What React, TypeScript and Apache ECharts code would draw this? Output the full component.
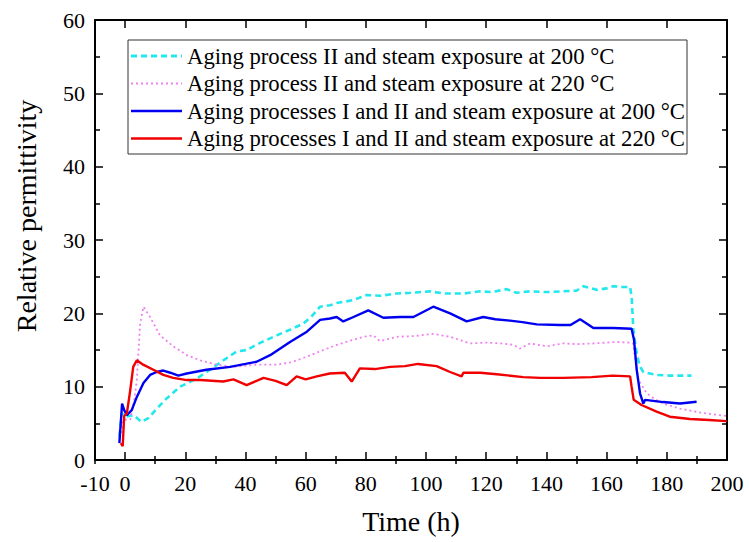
import React, { useEffect, useRef } from "react";
import * as echarts from "echarts";

const seriesNames = [
  "Aging process II and steam exposure at 200 °C",
  "Aging process II and steam exposure at 220 °C",
  "Aging processes I and II and steam exposure at 200 °C",
  "Aging processes I and II and steam exposure at 220 °C",
];

const xTitle = "Time (h)";
const yTitle = "Relative permittivity";
const xLabelValues = [-10, 0, 20, 40, 60, 80, 100, 120, 140, 160, 180, 200];
const xMajorTicks = [0, 20, 40, 60, 80, 100, 120, 140, 160, 180, 200];
const xMinorTicks = [-10, 10, 30, 50, 70, 90, 110, 130, 150, 170, 190];

const cyanData: [number, number][] = [
  [-1.9, 3.2], [-1.1, 6.4], [0, 5.9], [2.8, 6.1], [5.5, 5.2], [7.7, 5.7], [10.5, 7.0],
  [13.8, 8.4], [18.3, 10.0], [23.8, 11.1], [27.1, 12.0], [32.7, 13.6], [37.1, 14.8],
  [40.4, 15.0], [45, 16.0], [50.4, 17.0], [55, 17.8], [59.2, 18.6], [62, 19.6], [64.8, 20.9],
  [68.1, 21.1], [70.3, 21.4], [75.8, 21.8], [80.3, 22.5], [85, 22.4], [90.3, 22.7],
  [95, 22.8], [101.3, 23.0], [106, 22.7], [112.4, 22.7], [118, 23.0], [122, 22.9],
  [126.8, 23.3], [130, 22.8], [134.6, 23.0], [140, 22.9], [145.6, 23.0], [150, 23.1],
  [152.3, 23.7], [156.7, 23.2], [160, 23.4], [162.2, 23.7], [165, 23.6], [167.8, 23.6],
  [168.3, 22.3], [168.9, 17.7], [170, 14.5], [171, 12.8], [172.2, 12.0], [176.6, 11.6],
  [181, 11.5], [188.2, 11.5],
];

const pinkData: [number, number][] = [
  [-1.8, 3.0], [-0.5, 5.5], [1.7, 5.5], [3.0, 8.0], [3.9, 10.9], [5.0, 18.6], [6.1, 20.9],
  [8.3, 19.5], [11.6, 17.0], [16, 15.5], [20.5, 14.3], [24.9, 13.6], [30.5, 13.0],
  [36, 12.7], [43.7, 13.0], [50.4, 13.0], [55, 13.3], [59.2, 13.9], [65.9, 15.0],
  [70.3, 15.7], [75.9, 16.4], [79.2, 16.8], [82.5, 17.0], [84.7, 16.2], [90.3, 16.8],
  [96, 16.9], [102.4, 17.2], [108, 16.8], [114.6, 15.9], [120, 16.0], [125, 15.9],
  [129, 15.7], [131.2, 15.2], [134.6, 15.9], [140.1, 15.5], [145.6, 15.9], [150, 15.8],
  [156, 15.9], [163.3, 16.1], [167.8, 16.0], [168.8, 15.9], [169.4, 14.1], [170.6, 10.9],
  [173.3, 9.1], [176, 8.3], [178.8, 7.7], [184.4, 7.0], [192.1, 6.4], [199.9, 6.0],
];

const blueData: [number, number][] = [
  [-1.9, 2.3], [-1.0, 7.7], [-0.3, 6.8], [0.6, 6.1], [2.2, 6.8], [3.9, 8.6], [6.1, 10.5],
  [8.3, 11.6], [10.5, 12.0], [12.7, 12.2], [15, 11.9], [17.7, 11.5], [20.5, 11.8],
  [27, 12.3], [34.9, 12.7], [40, 13.1], [43.7, 13.4], [48.2, 14.3], [54.8, 16.1],
  [60.4, 17.5], [64.8, 19.1], [68.1, 19.3], [70.3, 19.5], [72.5, 18.9], [75.9, 19.5],
  [80.8, 20.4], [85.8, 19.4], [91.4, 19.5], [95.8, 19.5], [102.4, 20.9], [108, 20.0],
  [113.5, 18.9], [119, 19.5], [123, 19.2], [127.9, 19.0], [132, 18.8], [136.8, 18.5],
  [144.5, 18.4], [148, 18.4], [151.2, 19.2], [155.6, 18.0], [162.2, 18.0], [168.3, 17.9],
  [169.1, 16.4], [170, 12.3], [171.1, 9.1], [172.2, 7.7], [172.8, 8.2], [178.8, 7.9],
  [184.4, 7.7], [189.9, 7.95],
];

const redData: [number, number][] = [
  [-1.4, 2.3], [-0.8, 1.9], [-0.3, 6.0], [0.6, 6.4], [1.7, 9.5], [2.7, 12.7], [3.9, 13.6],
  [6, 13.0], [9.4, 12.3], [12.7, 11.6], [16, 11.2], [20.5, 10.9], [25, 10.9], [32.6, 10.7],
  [36, 11.0], [40.4, 10.2], [46, 11.2], [50, 10.8], [53.7, 10.2], [57, 11.4], [60, 11.0],
  [63.7, 11.4], [68, 11.8], [73, 11.9], [75.3, 10.7], [78, 12.5], [83, 12.4], [88, 12.7],
  [93, 12.8], [97.3, 13.1], [103.5, 12.8], [108, 12.0], [111.8, 11.4], [112.4, 11.9],
  [118, 11.9], [123.5, 11.7], [132.3, 11.3], [138, 11.2], [145.6, 11.2], [155, 11.3],
  [162, 11.5], [167.8, 11.4], [168.3, 10.0], [169, 8.2], [171.6, 7.5], [176.6, 6.6],
  [181, 5.9], [187.7, 5.6], [194, 5.45], [199.9, 5.3],
];

const FONT = "Liberation Serif";
const colors = ["#22E8EE", "#F080F0", "#0000F0", "#F00000"];
const widths = [2.6, 1.8, 2.4, 2.4];
const dashes: any[] = [[6, 4], [2, 3], "solid", "solid"];
const datasets = [cyanData, pinkData, blueData, redData];

export default function App() {
  const ref = useRef<HTMLDivElement>(null);
  useEffect(() => {
    if (!ref.current) return;
    const chart = echarts.init(ref.current, null, { renderer: "svg" });
    const axisLine = { show: true, onZero: false, lineStyle: { color: "#000", width: 2 } };
    const tickStyle = { width: 1.5, color: "#000" };
    const labelStyle = { fontFamily: FONT, fontSize: 22, color: "#000" };

    const rowY = [56, 83.5, 111, 138.5];
    const graphics: any[] = [
      {
        type: "rect",
        shape: { x: 128, y: 40, width: 559, height: 114 },
        style: { fill: "#fff", stroke: "#333", lineWidth: 1 },
        z: 10,
      },
      {
        type: "text",
        x: 26,
        y: 216,
        rotation: Math.PI / 2,
        style: { text: yTitle, fontFamily: FONT, fontSize: 28, fill: "#000", align: "center", verticalAlign: "middle" },
        z: 11,
      },
      {
        type: "text",
        x: 411,
        y: 521,
        style: { text: xTitle, fontFamily: FONT, fontSize: 28, fill: "#000", align: "center", verticalAlign: "middle" },
        z: 11,
      },
    ];
    seriesNames.forEach((name, i) => {
      graphics.push({
        type: "line",
        shape: { x1: 131, y1: rowY[i], x2: 182, y2: rowY[i] },
        style: { stroke: colors[i], lineWidth: widths[i] + 0.3, lineDash: dashes[i] === "solid" ? null : dashes[i] },
        z: 11,
      });
      graphics.push({
        type: "text",
        x: 187,
        y: rowY[i],
        style: { text: name, fontFamily: FONT, fontSize: 22.7, fill: "#000", verticalAlign: "middle", align: "left" },
        z: 11,
      });
    });

    const option: any = {
      animation: false,
      backgroundColor: "#fff",
      grid: { left: 95, right: 22, top: 20, bottom: 82 },
      graphic: graphics,
      xAxis: [
        {
          type: "value", min: -10, max: 200, position: "bottom",
          axisLine,
          splitLine: { show: false },
          axisTick: { show: true, inside: true, length: 8, lineStyle: tickStyle, customValues: xMajorTicks },
          axisLabel: { ...labelStyle, customValues: xLabelValues, margin: 12 },
        },
        {
          type: "value", min: -10, max: 200, position: "bottom",
          axisLine: { show: false },
          splitLine: { show: false },
          axisTick: { show: true, inside: true, length: 4, lineStyle: tickStyle, customValues: xMinorTicks },
          axisLabel: { show: false },
        },
        {
          type: "value", min: -10, max: 200, position: "top",
          axisLine,
          splitLine: { show: false },
          axisTick: { show: true, inside: true, length: 8, lineStyle: tickStyle, customValues: xMajorTicks },
          axisLabel: { show: false },
        },
        {
          type: "value", min: -10, max: 200, position: "top",
          axisLine: { show: false },
          splitLine: { show: false },
          axisTick: { show: true, inside: true, length: 4, lineStyle: tickStyle, customValues: xMinorTicks },
          axisLabel: { show: false },
        },
      ],
      yAxis: [
        {
          type: "value", min: 0, max: 60, interval: 10, position: "left",
          axisLine,
          splitLine: { show: false },
          axisTick: { show: true, inside: true, length: 8, lineStyle: tickStyle },
          minorTick: { show: true, splitNumber: 2, length: 5, lineStyle: tickStyle },
          minorSplitLine: { show: false },
          axisLabel: { ...labelStyle, margin: 10, padding: [0, 0, 4, 0] },
        },
        {
          type: "value", min: 0, max: 60, interval: 10, position: "right",
          axisLine,
          splitLine: { show: false },
          axisTick: { show: true, inside: true, length: 8, lineStyle: tickStyle },
          minorTick: { show: true, splitNumber: 2, length: 5, lineStyle: tickStyle },
          minorSplitLine: { show: false },
          axisLabel: { show: false },
        },
      ],
      series: datasets.map((d, i) => ({
        name: seriesNames[i],
        type: "line",
        data: d,
        symbol: "none",
        xAxisIndex: 0,
        yAxisIndex: 0,
        lineStyle: { color: colors[i], width: widths[i], type: dashes[i] },
        itemStyle: { color: colors[i] },
      })),
    };
    chart.setOption(option);
    return () => chart.dispose();
  }, []);
  return <div ref={ref} style={{ width: 749, height: 542, position: "absolute", left: 0, top: 0 }} />;
}
